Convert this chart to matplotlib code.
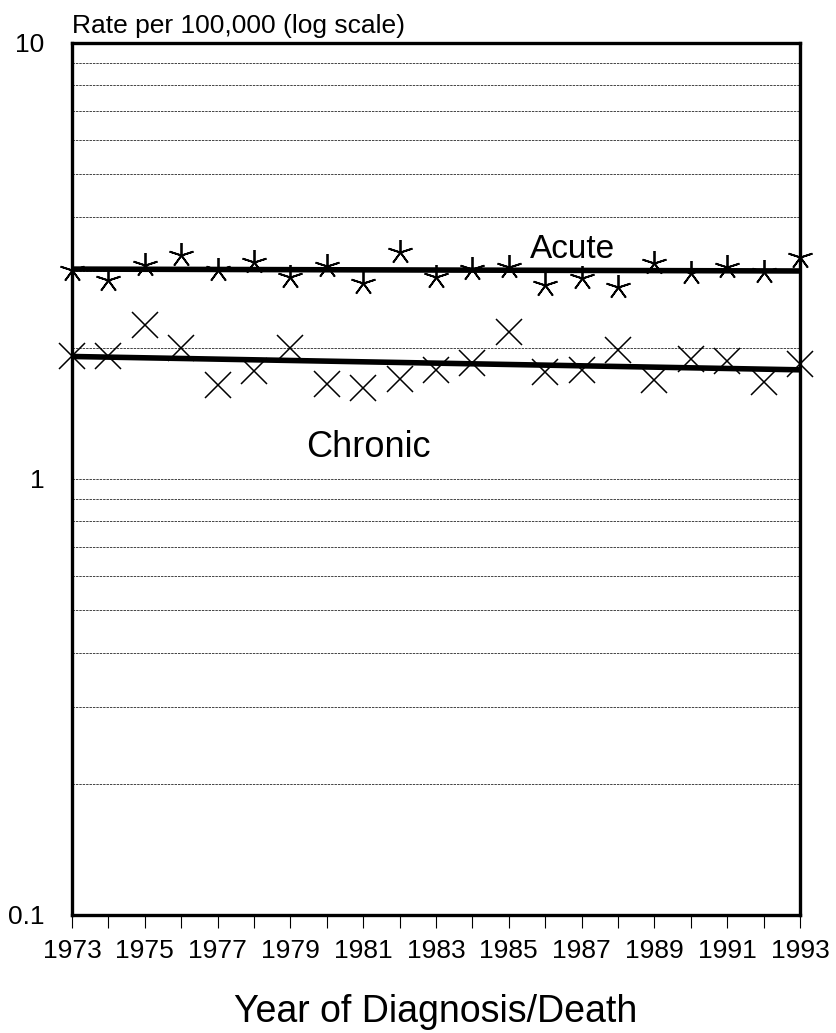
import matplotlib
matplotlib.use("Agg")
import matplotlib.pyplot as plt
from matplotlib.ticker import LogLocator, NullFormatter, FixedLocator, FixedFormatter

plt.rcParams['font.family'] = ['Liberation Sans', 'DejaVu Sans']

years = list(range(1973, 1994))
acute = [3.02, 2.86, 3.10, 3.27, 3.02, 3.15, 2.91, 3.08, 2.82, 3.32, 2.91,
         3.03, 3.06, 2.79, 2.89, 2.76, 3.13, 2.97, 3.06, 2.98, 3.23]
chronic = [1.91, 1.91, 2.26, 2.00, 1.64, 1.77, 2.00, 1.65, 1.62, 1.70, 1.78,
           1.85, 2.17, 1.76, 1.78, 1.98, 1.69, 1.88, 1.86, 1.67, 1.84]
trend_years = [1973, 1993]
acute_trend = [3.03, 3.00]
chronic_trend = [1.91, 1.78]
ytick_vals = [0.1, 1, 10]
ytick_labels = ["0.1", "1", "10"]

W, H = 837, 1033
fig = plt.figure(figsize=(W / 100, H / 100), dpi=100)
L, R, T, B = 72, 800, 43, 915
ax = fig.add_axes([L / W, 1 - B / H, (R - L) / W, (B - T) / H])

ax.set_yscale('log')
ax.set_ylim(0.1, 10)
ax.set_xlim(1973, 1993)

ax.yaxis.set_major_locator(FixedLocator(ytick_vals))
ax.yaxis.set_major_formatter(FixedFormatter(ytick_labels))
ax.yaxis.set_minor_locator(LogLocator(base=10, subs=range(2, 10)))
ax.yaxis.set_minor_formatter(NullFormatter())
ax.grid(axis='y', which='both', color='#444444', linestyle=(0, (2.5, 1)), linewidth=0.7)
ax.set_axisbelow(True)

ax.tick_params(axis='y', which='both', length=0, pad=20, labelsize=19)
ax.set_xticks(years)
ax.set_xticklabels([str(y) if (y - 1973) % 2 == 0 else "" for y in years])
ax.tick_params(axis='x', which='major', length=9, width=0.8, direction='out', pad=8, labelsize=19)

for s in ax.spines.values():
    s.set_linewidth(2.4)

ax.plot(years, acute, linestyle='none', marker=(5, 2, 0), markersize=18,
        markeredgewidth=1.3, color='black', clip_on=False, zorder=4)
ax.plot(years, chronic, linestyle='none', marker='x', markersize=19,
        markeredgewidth=1.1, color='black', clip_on=False, zorder=4)
ax.plot(trend_years, acute_trend, color='black', linewidth=4, zorder=3, solid_capstyle='butt')
ax.plot(trend_years, chronic_trend, color='black', linewidth=4, zorder=3, solid_capstyle='butt')

ax.text(1986.74, 3.21, "Acute", ha='center', va='baseline', fontsize=24)
ax.text(1981.15, 1.125, "Chronic", ha='center', va='baseline', fontsize=26)

fig.text(L / W, 1 - 33 / H, "Rate per 100,000 (log scale)", ha='left', va='baseline', fontsize=19)
fig.text((L + R) / 2 / W, 1 - 1022 / H, "Year of Diagnosis/Death", ha='center', va='baseline', fontsize=27)

fig.savefig("out.png", dpi=100)
